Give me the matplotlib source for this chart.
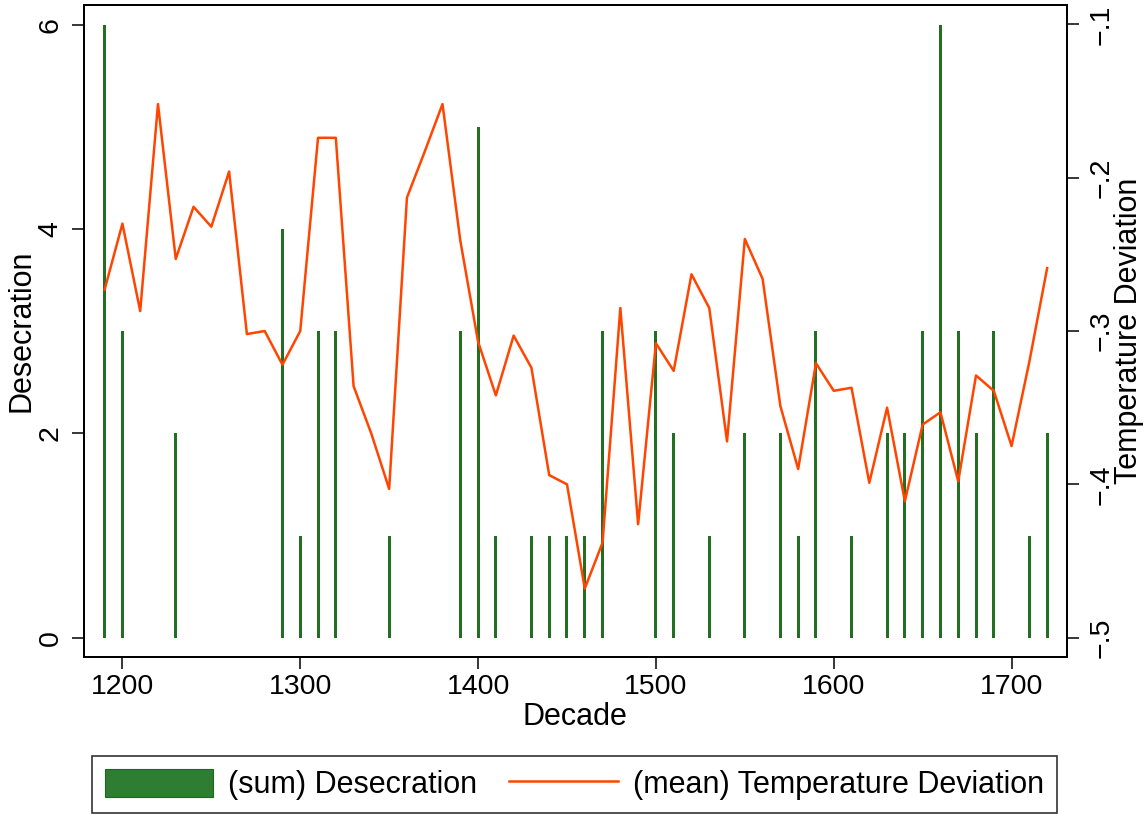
import numpy as np
import matplotlib.pyplot as plt
from matplotlib.ticker import FuncFormatter
from matplotlib.patches import Patch
from matplotlib.lines import Line2D

plt.rcParams['font.family'] = ['Liberation Sans', 'DejaVu Sans']

# decades with at least one desecration and the summed count
bar_decades = [1190, 1200, 1230, 1290, 1300, 1310, 1320, 1350, 1390, 1400,
               1410, 1430, 1440, 1450, 1460, 1470, 1500, 1510, 1530, 1550,
               1570, 1580, 1590, 1610, 1630, 1640, 1650, 1660, 1670, 1680,
               1690, 1710, 1720]
desecration = [6, 3, 2, 4, 1, 3, 3, 1, 3, 5,
               1, 1, 1, 1, 1, 3, 3, 2, 1, 2,
               2, 1, 3, 1, 2, 2, 3, 6, 3, 2,
               3, 1, 2]

# mean temperature deviation per decade, 1190..1720
decades = list(range(1190, 1730, 10))
temp_dev = [-0.273, -0.230, -0.287, -0.152, -0.253, -0.219, -0.232, -0.196, -0.302, -0.300,
            -0.322, -0.300, -0.174, -0.174, -0.336, -0.367, -0.403, -0.213, -0.183, -0.152,
            -0.241, -0.307, -0.342, -0.303, -0.324, -0.394, -0.400, -0.468, -0.438, -0.285,
            -0.426, -0.308, -0.326, -0.263, -0.285, -0.372, -0.240, -0.266, -0.349, -0.390,
            -0.321, -0.339, -0.337, -0.399, -0.350, -0.411, -0.361, -0.353, -0.398, -0.329,
            -0.339, -0.375, -0.320, -0.259]

bar_face = '#226f22'
bar_edge = '#1a6a1a'
line_col = '#ff4500'
fs = 20.5
fs_title = 22

fig = plt.figure(figsize=(11.45, 8.14), dpi=100)
ax = fig.add_axes([84 / 1145, 1 - 657 / 814, (1066.7 - 84) / 1145, (657 - 5) / 814])
ax2 = ax.twinx()

ax.bar(bar_decades, desecration, width=1.69, color=bar_face, linewidth=0)
ax2.plot(decades, temp_dev, color=line_col, linewidth=1.8)

ax.set_xlim(1178.4, 1731)
ax.set_ylim(-0.19, 6.197)
ax2.set_ylim(-0.5126, -0.0874)

ax.set_xticks([1200, 1300, 1400, 1500, 1600, 1700])
ax.set_yticks([0, 2, 4, 6])
ax2.set_yticks([-0.5, -0.4, -0.3, -0.2, -0.1])


def fmt(v, pos):
    s = f"{abs(v):.1f}".lstrip('0')
    return ('\u2212' if v < 0 else '') + s


ax2.yaxis.set_major_formatter(FuncFormatter(fmt))

for a in (ax, ax2):
    for sp in a.spines.values():
        sp.set_linewidth(1.4)
    a.tick_params(length=8.6, width=1.1, labelsize=fs, direction='out')
ax.tick_params(axis='x', pad=4)
ax.tick_params(axis='y', pad=6)
ax2.tick_params(axis='y', pad=7)
for lab in ax.get_yticklabels():
    lab.set_rotation(90)
    lab.set_va('center')
for lab in ax2.get_yticklabels():
    lab.set_rotation(90)
    lab.set_va('center')

ax.set_xlabel('Decade', fontsize=fs_title, labelpad=1)
ax.set_ylabel('Desecration', fontsize=fs_title, labelpad=1)
ax2.set_ylabel('Temperature Deviation', fontsize=fs_title, rotation=90, labelpad=0)

handles = [Patch(facecolor='#2f7d32', edgecolor=bar_edge, linewidth=0.8),
           Line2D([0], [0], color=line_col, linewidth=1.8)]
leg = fig.legend(handles, ['(sum) Desecration', '(mean) Temperature Deviation'],
                 loc='center', bbox_to_anchor=(0.5017, 0.0362), ncol=2,
                 fontsize=fs_title, frameon=True, fancybox=False, edgecolor='black',
                 handlelength=3.55, handleheight=1.05, handletextpad=0.5,
                 columnspacing=1.05, borderpad=0.42, borderaxespad=0)
leg.get_frame().set_linewidth(1.2)

fig.savefig('out.png', dpi=100)
